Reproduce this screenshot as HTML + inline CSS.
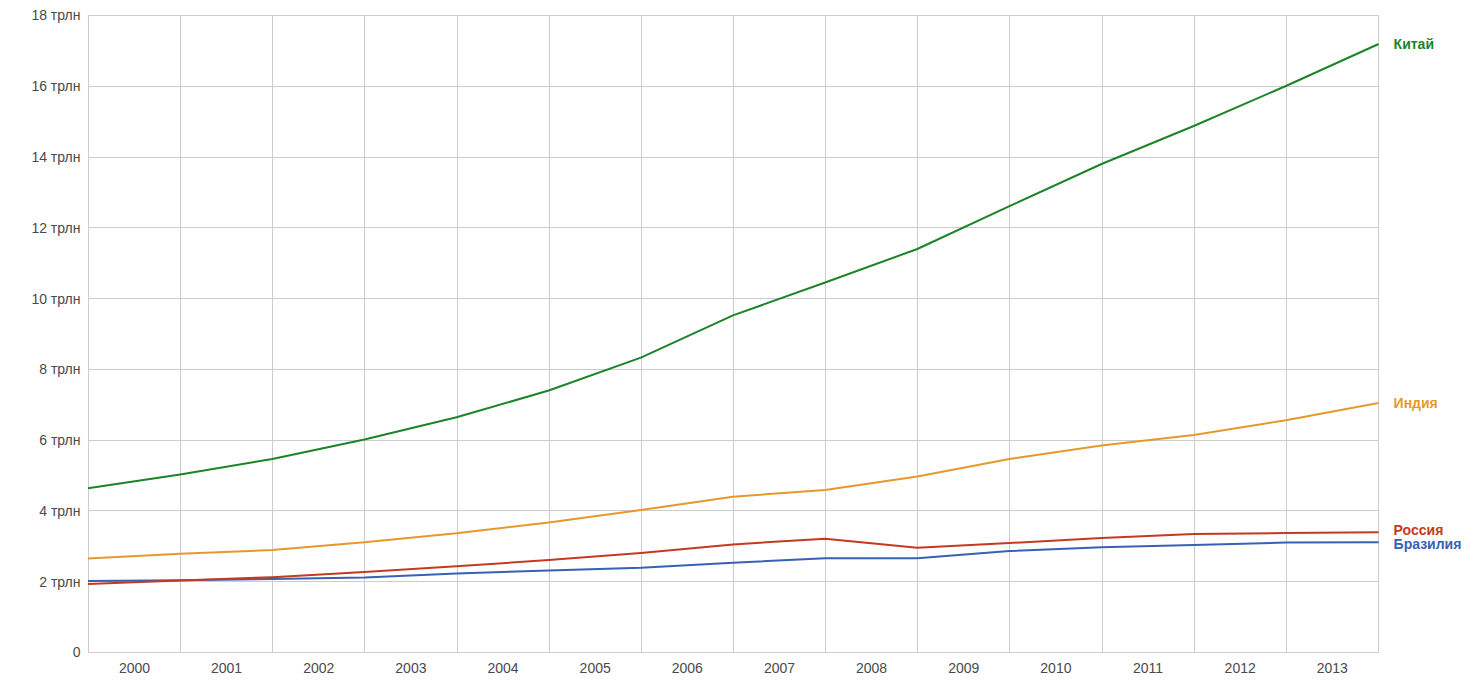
<!DOCTYPE html><html><head><meta charset="utf-8"><style>html,body{margin:0;padding:0;background:#fff;}body{width:1472px;height:682px;overflow:hidden;position:relative;font-family:"Liberation Sans",sans-serif;}svg{position:absolute;left:0;top:0;}</style></head><body>
<svg width="1472" height="682" viewBox="0 0 1472 682">
<path d="M88.5 15 V653 M180.5 15 V653 M272.5 15 V653 M364.5 15 V653 M457.5 15 V653 M549.5 15 V653 M641.5 15 V653 M733.5 15 V653 M825.5 15 V653 M917.5 15 V653 M1009.5 15 V653 M1102.5 15 V653 M1194.5 15 V653 M1286.5 15 V653 M1378.5 15 V653 M88 652.5 H1379 M88 581.5 H1379 M88 510.5 H1379 M88 440.5 H1379 M88 369.5 H1379 M88 298.5 H1379 M88 227.5 H1379 M88 157.5 H1379 M88 86.5 H1379 M88 15.5 H1379" stroke="#cccccc" stroke-width="1" fill="none" shape-rendering="crispEdges"/>
<polyline points="88.00,558.50 180.14,553.70 272.29,550.00 364.43,542.20 456.57,533.30 548.71,522.50 640.86,510.10 733.00,496.70 825.14,490.00 917.29,476.60 1009.43,459.00 1101.57,445.50 1193.71,434.90 1285.86,420.30 1378.60,403.00" fill="none" stroke="#e5992c" stroke-width="2" stroke-linejoin="round" stroke-linecap="butt"/>
<polyline points="88.00,581.10 180.14,580.30 272.29,579.00 364.43,577.40 456.57,573.40 548.71,570.60 640.86,567.80 733.00,562.70 825.14,558.20 917.29,558.30 1009.43,551.10 1101.57,547.30 1193.71,545.00 1285.86,542.50 1378.60,542.30" fill="none" stroke="#3761b4" stroke-width="2" stroke-linejoin="round" stroke-linecap="butt"/>
<polyline points="88.00,583.90 180.14,580.60 272.29,577.20 364.43,572.00 456.57,566.30 548.71,560.00 640.86,553.00 733.00,544.40 825.14,538.70 917.29,547.70 1009.43,543.00 1101.57,538.00 1193.71,534.00 1285.86,533.10 1378.60,532.20" fill="none" stroke="#c43a20" stroke-width="2" stroke-linejoin="round" stroke-linecap="butt"/>
<polyline points="88.00,488.30 180.14,474.60 272.29,459.00 364.43,439.50 456.57,417.30 548.71,390.50 640.86,357.60 733.00,315.40 825.14,282.50 917.29,249.00 1009.43,206.20 1101.57,164.00 1193.71,126.00 1285.86,86.00 1378.60,44.00" fill="none" stroke="#1b8428" stroke-width="2" stroke-linejoin="round" stroke-linecap="butt"/>
<text x="80.5" y="657" text-anchor="end" font-family="Liberation Sans" font-size="14" fill="#4a4a4a">0</text>
<text x="80.5" y="587" text-anchor="end" font-family="Liberation Sans" font-size="14" fill="#4a4a4a">2 трлн</text>
<text x="80.5" y="516" text-anchor="end" font-family="Liberation Sans" font-size="14" fill="#4a4a4a">4 трлн</text>
<text x="80.5" y="445" text-anchor="end" font-family="Liberation Sans" font-size="14" fill="#4a4a4a">6 трлн</text>
<text x="80.5" y="374" text-anchor="end" font-family="Liberation Sans" font-size="14" fill="#4a4a4a">8 трлн</text>
<text x="80.5" y="304" text-anchor="end" font-family="Liberation Sans" font-size="14" fill="#4a4a4a">10 трлн</text>
<text x="80.5" y="233" text-anchor="end" font-family="Liberation Sans" font-size="14" fill="#4a4a4a">12 трлн</text>
<text x="80.5" y="162" text-anchor="end" font-family="Liberation Sans" font-size="14" fill="#4a4a4a">14 трлн</text>
<text x="80.5" y="91" text-anchor="end" font-family="Liberation Sans" font-size="14" fill="#4a4a4a">16 трлн</text>
<text x="80.5" y="20" text-anchor="end" font-family="Liberation Sans" font-size="14" fill="#4a4a4a">18 трлн</text>
<text x="134.5" y="673" text-anchor="middle" font-family="Liberation Sans" font-size="14" fill="#4a4a4a">2000</text>
<text x="226.6" y="673" text-anchor="middle" font-family="Liberation Sans" font-size="14" fill="#4a4a4a">2001</text>
<text x="318.8" y="673" text-anchor="middle" font-family="Liberation Sans" font-size="14" fill="#4a4a4a">2002</text>
<text x="410.9" y="673" text-anchor="middle" font-family="Liberation Sans" font-size="14" fill="#4a4a4a">2003</text>
<text x="503.0" y="673" text-anchor="middle" font-family="Liberation Sans" font-size="14" fill="#4a4a4a">2004</text>
<text x="595.2" y="673" text-anchor="middle" font-family="Liberation Sans" font-size="14" fill="#4a4a4a">2005</text>
<text x="687.3" y="673" text-anchor="middle" font-family="Liberation Sans" font-size="14" fill="#4a4a4a">2006</text>
<text x="779.5" y="673" text-anchor="middle" font-family="Liberation Sans" font-size="14" fill="#4a4a4a">2007</text>
<text x="871.6" y="673" text-anchor="middle" font-family="Liberation Sans" font-size="14" fill="#4a4a4a">2008</text>
<text x="963.8" y="673" text-anchor="middle" font-family="Liberation Sans" font-size="14" fill="#4a4a4a">2009</text>
<text x="1055.9" y="673" text-anchor="middle" font-family="Liberation Sans" font-size="14" fill="#4a4a4a">2010</text>
<text x="1148.0" y="673" text-anchor="middle" font-family="Liberation Sans" font-size="14" fill="#4a4a4a">2011</text>
<text x="1240.2" y="673" text-anchor="middle" font-family="Liberation Sans" font-size="14" fill="#4a4a4a">2012</text>
<text x="1332.3" y="673" text-anchor="middle" font-family="Liberation Sans" font-size="14" fill="#4a4a4a">2013</text>
<text x="1393.6" y="49" font-family="Liberation Sans" font-weight="bold" font-size="14" fill="#1b8428">Китай</text>
<text x="1393.6" y="408" font-family="Liberation Sans" font-weight="bold" font-size="14" fill="#e5992c">Индия</text>
<text x="1393.6" y="535" font-family="Liberation Sans" font-weight="bold" font-size="14" fill="#c43a20">Россия</text>
<text x="1393.6" y="549" font-family="Liberation Sans" font-weight="bold" font-size="14" fill="#3761b4">Бразилия</text>
</svg></body></html>
